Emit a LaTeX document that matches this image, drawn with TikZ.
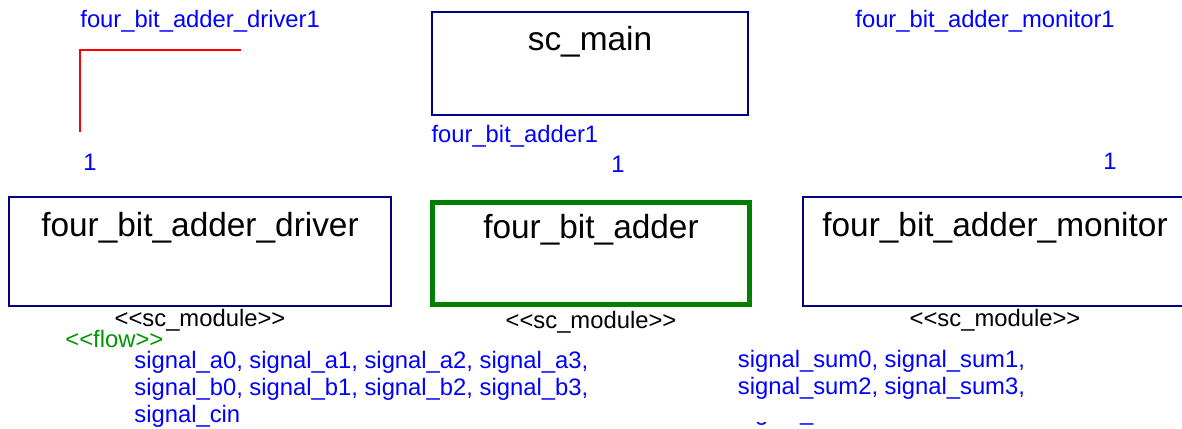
\documentclass[tikz,border=0pt]{standalone}
\usepackage{fontspec}
\setmainfont{Liberation Sans}[Ligatures=TeXOff]
\usetikzlibrary{calc}

\definecolor{navy}{RGB}{0,0,128}
\definecolor{umlgreen}{RGB}{0,128,0}
\definecolor{flowgreen}{RGB}{0,150,0}
\definecolor{instblue}{RGB}{0,0,255}

\begin{document}
\begin{tikzpicture}[x=0.5pt, y=-0.5pt,
  module/.style={draw=navy, line width=0.9pt, rectangle, inner sep=0pt},
  modname/.style={anchor=base, inner sep=0pt, font=\fontsize{16.7}{20}\selectfont},
  stereo/.style={anchor=base, inner sep=0pt, font=\fontsize{11.9}{14}\selectfont},
  inst/.style={anchor=base west, inner sep=0pt, text=instblue, font=\fontsize{11.9}{14}\selectfont},
  mult/.style={anchor=base, inner sep=0pt, text=instblue, font=\fontsize{11.9}{14}\selectfont},
  sigs/.style={anchor=base west, inner sep=0pt, align=left, text=instblue, font=\fontsize{11.9}{13.4}\selectfont}]
\clip (0,0) rectangle (1182,428);

\node[module, minimum width=158pt, minimum height=51.5pt] (main) at (590, 63.5) {};
\node[modname] (mainname) at ($(main.north)+(0,39)$) {sc\_main};
\node[inst] (adderinst) at ($(main.south west)+(0,27)$) {four\_bit\_adder1};

\node[module, minimum width=191pt, minimum height=54.5pt] (driver) at (200, 251.5) {};
\node[module, draw=umlgreen, line width=2.5pt, minimum width=158.5pt, minimum height=51pt] (adder) at (591, 253.5) {};
\node[module, minimum width=192pt, minimum height=54.5pt] (monitor) at (995, 251.5) {};

\node[modname] (drivername) at ($(driver.north)+(0,40.5)$) {four\_bit\_adder\_driver};
\node[modname] (addername) at ($(adder.north)+(0,38)$) {four\_bit\_adder};
\node[modname] (monitorname) at ($(monitor.north)+(0,40.5)$) {four\_bit\_adder\_monitor};

\node[stereo] (driverstereo) at ($(driver.south)+(0,20)$) {<<sc\_module>>};
\node[stereo] (adderstereo) at ($(adder.south)+(0,21.5)$) {<<sc\_module>>};
\node[stereo] (monitorstereo) at ($(monitor.south)+(0,20)$) {<<sc\_module>>};

\node[inst] (driverinst) at (80, 27) {four\_bit\_adder\_driver1};
\node[inst] (monitorinst) at (855, 27) {four\_bit\_adder\_monitor1};

\node[mult] (drivermult) at (90, 170) {1};
\node[mult] (addermult) at (618, 172) {1};
\node[mult] (monitormult) at (1110, 169) {1};

\coordinate (linkstart) at (80, 132);
\coordinate (linkcorner) at (80, 50);
\coordinate (linkend) at (241, 50);
\draw[red, line width=1pt] (linkstart) -- (linkcorner) -- (linkend);

\node[inst, text=flowgreen] (flow) at (65, 347) {<<flow>>};
% base anchor of a multi-line node sits on its last line
\node[sigs] (insigs) at (134, 422) {signal\_a0, signal\_a1, signal\_a2, signal\_a3,\\
  signal\_b0, signal\_b1, signal\_b2, signal\_b3,\\
  signal\_cin};
\node[sigs] (outsigs) at (737.5, 394) {signal\_sum0, signal\_sum1,\\
  signal\_sum2, signal\_sum3,};
\begin{scope}
\clip (700, 422) rectangle (900, 428);
\node[inst] (coutsig) at (737.5, 420) {signal\_cout};
\end{scope}
\end{tikzpicture}
\end{document}
